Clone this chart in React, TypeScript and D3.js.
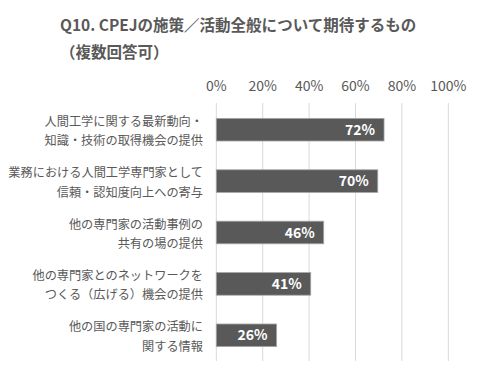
import React from "react";
import * as d3 from "d3";

const categories: string[][] = [
  ["人間工学に関する最新動向・", "知識・技術の取得機会の提供"],
  ["業務における人間工学専門家として", "信頼・認知度向上への寄与"],
  ["他の専門家の活動事例の", "共有の場の提供"],
  ["他の専門家とのネットワークを", "つくる（広げる）機会の提供"],
  ["他の国の専門家の活動に", "関する情報"],
];
const values: number[] = [0.723, 0.696, 0.463, 0.407, 0.26];
const ticks: number[] = [0, 0.2, 0.4, 0.6, 0.8, 1.0];
const titleLines: string[] = ["Q10. CPEJの施策／活動全般について期待するもの", "（複数回答可）"];

const W = 485;
const H = 378;
const FONT = "'Noto Sans CJK JP', 'Noto Sans', sans-serif";
const GRAY = "#595959";

export default function App() {
  const x = d3.scaleLinear().domain([0, 1]).range([216.3, 448.3]);
  const y = d3
    .scaleBand<number>()
    .domain(d3.range(values.length))
    .range([104, 361])
    .paddingInner(0.56)
    .paddingOuter(0.28);
  const fmt = d3.format(".0%");
  return (
    <svg
      width={W}
      height={H}
      style={{ position: "absolute", left: 0, top: 0, background: "#fff" }}
      fontFamily={FONT}
    >
      <text x={60} y={31} fontSize={15.5} fontWeight="bold" fill={GRAY}>
        {titleLines[0]}
      </text>
      <text x={60} y={58} fontSize={15.5} fontWeight="bold" fill={GRAY}>
        {titleLines[1]}
      </text>
      {ticks.map((t) => (
        <g key={t}>
          <line x1={x(t)} x2={x(t)} y1={103} y2={361} stroke="#d9d9d9" strokeWidth={1} />
          <text x={x(t)} y={91} textAnchor="middle" fontSize={14} fill={GRAY}>
            {fmt(t)}
          </text>
        </g>
      ))}
      {values.map((v, i) => {
        const y0 = y(i)!;
        const bw = y.bandwidth();
        const cy = y0 + bw / 2;
        return (
          <g key={i}>
            <rect
              x={x(0)}
              y={y0}
              width={x(v) - x(0)}
              height={bw}
              fill={GRAY}
              stroke="#a6a6a6"
              strokeWidth={0.8}
            />
            <text
              x={x(v) - 9}
              y={cy + 5}
              textAnchor="end"
              fontSize={14}
              fontWeight="bold"
              fill="#fff"
            >
              {fmt(v)}
            </text>
            {categories[i].map((line, j) => (
              <text
                key={j}
                x={203}
                y={cy - 4 + j * 19.5}
                textAnchor="end"
                fontSize={12.2}
                fill={GRAY}
              >
                {line}
              </text>
            ))}
          </g>
        );
      })}
    </svg>
  );
}
